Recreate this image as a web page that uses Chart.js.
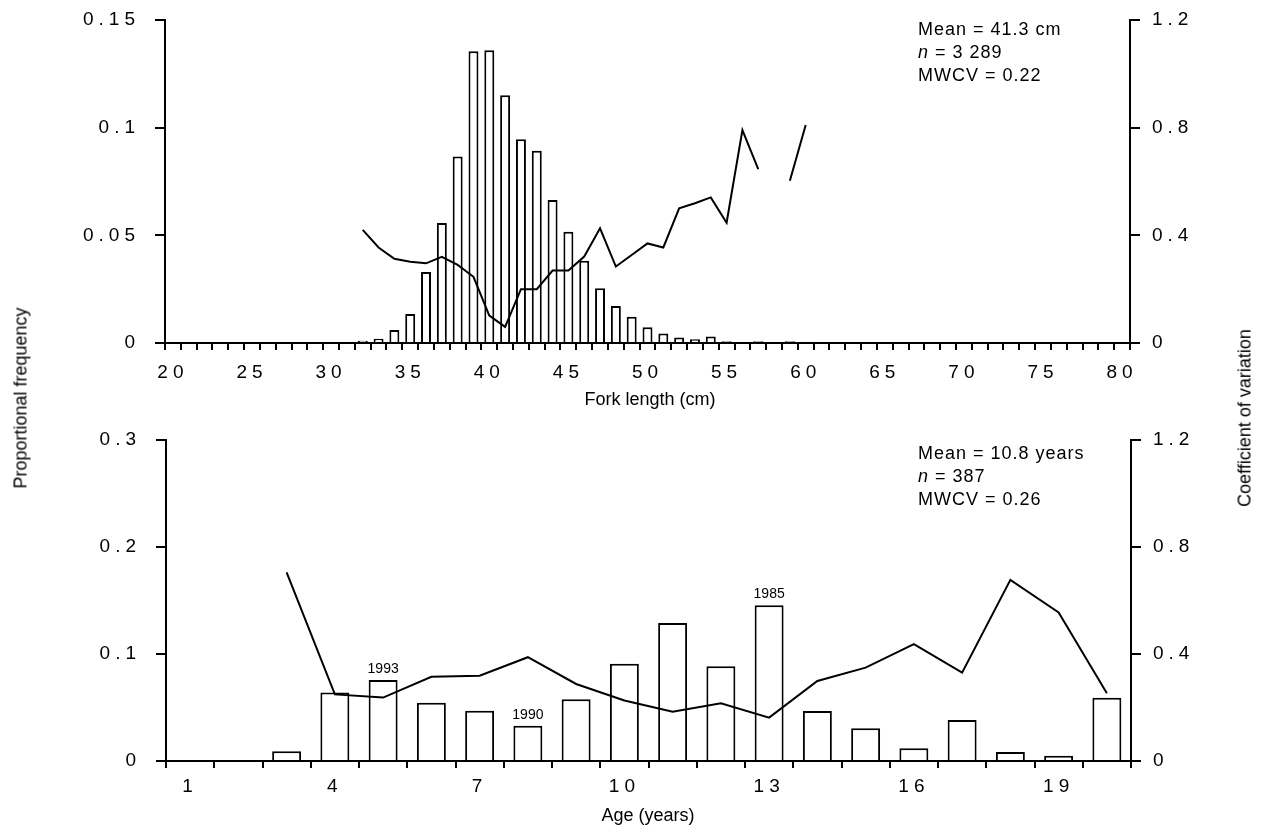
<!DOCTYPE html>
<html>
<head>
<meta charset="utf-8">
<title>Fork length and age frequency</title>
<script src="https://cdn.jsdelivr.net/npm/chart.js@4.4.0/dist/chart.umd.min.js"></script>
<style>
  html, body { margin: 0; padding: 0; background: #fff; }
  body { width: 1265px; height: 832px; position: relative; overflow: hidden;
         font-family: "Liberation Sans", Arial, sans-serif; color: #000; }
  .panel { position: absolute; left: 0; width: 1265px; }
  #topPanel { top: 0; height: 415px; }
  #bottomPanel { top: 415px; height: 417px; }
  .stats { position: absolute; left: 918px; font-size: 18px; line-height: 23px; letter-spacing: 1px; white-space: nowrap; }
  .xtitle { position: absolute; font-size: 18px; white-space: nowrap; transform: translate(-50%, -50%); }
  .ytitle { position: absolute; font-size: 18px; white-space: nowrap; transform: translate(-50%, -50%) rotate(-90deg); }
</style>
</head>
<body>
<div class="panel" id="topPanel"><canvas id="chart-length" width="1265" height="415"></canvas></div>
<div class="panel" id="bottomPanel"><canvas id="chart-age" width="1265" height="417"></canvas></div>

<div class="stats" style="top:18px">Mean = 41.3 cm<br><i>n</i> = 3 289<br>MWCV = 0.22</div>
<div class="stats" style="top:442px">Mean = 10.8 years<br><i>n</i> = 387<br>MWCV = 0.26</div>

<div class="xtitle" style="left:650px; top:399px">Fork length (cm)</div>
<div class="xtitle" style="left:648px; top:815px">Age (years)</div>
<div class="ytitle" style="left:21px; top:398px">Proportional frequency</div>
<div class="ytitle" style="left:1245px; top:418px">Coefficient of variation</div>

<script>
// --- fork length panel (cm classes 20..80) ---
var lengths = [20, 21, 22, 23, 24, 25, 26, 27, 28, 29, 30, 31, 32, 33, 34, 35, 36, 37, 38, 39, 40,
  41, 42, 43, 44, 45, 46, 47, 48, 49, 50, 51, 52, 53, 54, 55, 56, 57, 58, 59, 60,
  61, 62, 63, 64, 65, 66, 67, 68, 69, 70, 71, 72, 73, 74, 75, 76, 77, 78, 79, 80];

var lengthFreq = [0, 0, 0, 0, 0, 0, 0, 0, 0, 0, 0, 0,
  0.001, 0.002, 0.006, 0.0135, 0.033, 0.0557, 0.0866, 0.1355, 0.136,
  0.115, 0.0946, 0.0893, 0.0664, 0.0517, 0.0382, 0.0254, 0.0172, 0.0122, 0.0073,
  0.0044, 0.0025, 0.0017, 0.003, 0.0008, 0, 0.0008, 0, 0.0008, 0.0006,
  0, 0, 0.0005, 0, 0, 0, 0, 0, 0, 0, 0, 0, 0, 0, 0, 0, 0, 0, 0, 0];

var lengthCV = [null, null, null, null, null, null, null, null, null, null, null, null,
  0.42, 0.355, 0.313, 0.302, 0.296, 0.32, 0.29, 0.246, 0.102,
  0.06, 0.2, 0.2, 0.269, 0.269, 0.321, 0.426, 0.284, 0.327, 0.37,
  0.355, 0.5, 0.519, 0.541, 0.447, 0.791, 0.646, null, 0.603, 0.81,
  null, null, null, null, null, null, null, null, null, null, null, null, null, null, null, null, null, null, null, null];

// --- age panel (years 1..20) ---
var ages = [1, 2, 3, 4, 5, 6, 7, 8, 9, 10, 11, 12, 13, 14, 15, 16, 17, 18, 19, 20];
var ageFreq = [0, 0, 0.009, 0.064, 0.0757, 0.0545, 0.047, 0.033, 0.0577, 0.091,
  0.129, 0.0885, 0.1455, 0.0467, 0.0305, 0.0118, 0.0383, 0.0084, 0.005, 0.0592];
var ageCV = [null, null, 0.705, 0.249, 0.237, 0.315, 0.319, 0.388, 0.288, 0.226,
  0.184, 0.216, 0.162, 0.299, 0.349, 0.437, 0.33, 0.677, 0.555, 0.253];

// year-class tags over some age bars
var yearAges = [5, 8, 13];
var yearLabels = ['1993', '1990', '1985'];

var FONT = '"Liberation Sans", Arial, sans-serif';
var tickFont = { family: FONT, size: 19 };

// tick labels in the original are letter spaced ("0 .1 5"), datasets are not
var spacedTicks = {
  id: 'spacedTicks',
  beforeDraw: function (chart) { chart.ctx.letterSpacing = '5px'; },
  beforeDatasetsDraw: function (chart) { chart.ctx.letterSpacing = '0px'; }
};

var yearTags = {
  id: 'yearTags',
  afterDatasetsDraw: function (chart) {
    var ctx = chart.ctx, xs = chart.scales.x, ys = chart.scales.y;
    ctx.save();
    ctx.font = '14px ' + FONT;
    ctx.fillStyle = '#000';
    ctx.textAlign = 'center';
    ctx.textBaseline = 'bottom';
    yearAges.forEach(function (a, i) {
      var idx = ages.indexOf(a);
      ctx.fillText(yearLabels[i], xs.getPixelForValue(idx), ys.getPixelForValue(ageFreq[idx]) - 4);
    });
    ctx.restore();
  }
};

function yAxis(pos, max, step, width) {
  return {
    position: pos,
    min: 0,
    max: max,
    ticks: {
      stepSize: step, color: '#000', font: tickFont, padding: pos === 'left' ? 15 : 12,
      callback: function (v) { return String(Math.round(v * 1000) / 1000); }
    },
    grid: { drawOnChartArea: false, drawTicks: true, tickLength: 10, color: '#000', lineWidth: 2 },
    border: { display: true, color: '#000', width: 2 },
    afterFit: function (s) { s.width = width; s.paddingTop = 0; s.paddingBottom = 0; }
  };
}

function xAxis(cats, showLabel, height, pad) {
  return {
    type: 'category',
    offset: true,
    grid: { offset: true, drawOnChartArea: false, drawTicks: true, tickLength: 7, color: '#000', lineWidth: 2 },
    border: { display: true, color: '#000', width: 2 },
    ticks: {
      autoSkip: false, maxRotation: 0, minRotation: 0, padding: pad,
      color: '#000', font: tickFont,
      callback: function (v, i) { return showLabel(cats[i]) ? String(cats[i]) : ''; }
    },
    afterFit: function (s) { s.height = height; s.paddingLeft = 0; s.paddingRight = 0; }
  };
}

function barSet(data, pct) {
  return {
    type: 'bar', data: data, order: 2, yAxisID: 'y',
    backgroundColor: '#fff', borderColor: '#000', borderWidth: 2, borderSkipped: 'bottom',
    barPercentage: pct, categoryPercentage: 1
  };
}

function lineSet(data) {
  return {
    type: 'line', data: data, order: 1, yAxisID: 'y1',
    borderColor: '#000', borderWidth: 2, pointRadius: 0, tension: 0, spanGaps: false, fill: false
  };
}

var common = {
  responsive: false,
  animation: false,
  events: [],
  plugins: { legend: { display: false }, tooltip: { enabled: false } }
};

new Chart(document.getElementById('chart-length').getContext('2d'), {
  type: 'bar',
  data: { labels: lengths, datasets: [barSet(lengthFreq, 0.63), lineSet(lengthCV)] },
  options: Object.assign({}, common, {
    layout: { padding: { top: 20, left: 0, right: 0, bottom: 0 } },
    scales: {
      x: xAxis(lengths, function (c) { return c % 5 === 0; }, 72, 11),
      y: yAxis('left', 0.15, 0.05, 165),
      y1: yAxis('right', 1.2, 0.4, 135)
    }
  }),
  plugins: [spacedTicks]
});

new Chart(document.getElementById('chart-age').getContext('2d'), {
  type: 'bar',
  data: { labels: ages, datasets: [barSet(ageFreq, 0.6), lineSet(ageCV)] },
  options: Object.assign({}, common, {
    layout: { padding: { top: 25, left: 0, right: 0, bottom: 0 } },
    scales: {
      x: xAxis(ages, function (c) { return (c - 1) % 3 === 0; }, 71, 7),
      y: yAxis('left', 0.3, 0.1, 166),
      y1: yAxis('right', 1.2, 0.4, 134)
    }
  }),
  plugins: [spacedTicks, yearTags]
});
</script>
</body>
</html>
